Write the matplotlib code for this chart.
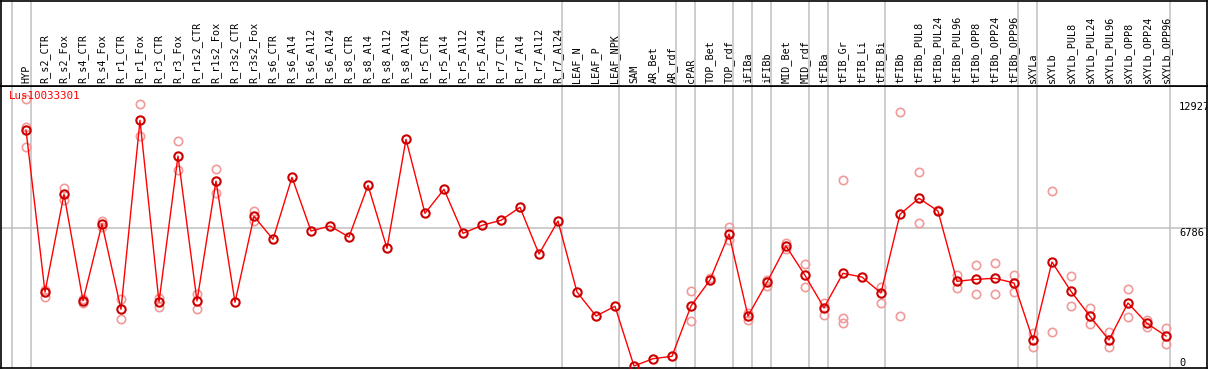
import matplotlib
matplotlib.use('Agg')
import matplotlib.pyplot as plt
import matplotlib.transforms as mtransforms

categories = ["HYP", "R_s2_CTR", "R_s2_Fox", "R_s4_CTR", "R_s4_Fox", "R_r1_CTR", "R_r1_Fox",
              "R_r3_CTR", "R_r3_Fox", "R_r1s2_CTR", "R_r1s2_Fox", "R_r3s2_CTR", "R_r3s2_Fox",
              "R_s6_CTR", "R_s6_Al4", "R_s6_Al12", "R_s6_Al24", "R_s8_CTR", "R_s8_Al4",
              "R_s8_Al12", "R_s8_Al24", "R_r5_CTR", "R_r5_Al4", "R_r5_Al12", "R_r5_Al24",
              "R_r7_CTR", "R_r7_Al4", "R_r7_Al12", "R_r7_Al24", "LEAF_N", "LEAF_P", "LEAF_NPK",
              "SAM", "AR_Bet", "AR_rdf", "cPAR", "TOP_Bet", "TOP_rdf", "iFIBa", "iFIBb",
              "MID_Bet", "MID_rdf", "tFIBa", "tFIB_Gr", "tFIB_Li", "tFIB_Bi", "tFIBb",
              "tFIBb_PUL8", "tFIBb_PUL24", "tFIBb_PUL96", "tFIBb_OPP8", "tFIBb_OPP24",
              "tFIBb_OPP96", "sXYLa", "sXYLb", "sXYLb_PUL8", "sXYLb_PUL24", "sXYLb_PUL96",
              "sXYLb_OPP8", "sXYLb_OPP24", "sXYLb_OPP96"]

group_sizes = [1, 28, 3, 3, 1, 2, 1, 1, 2, 1, 3, 7, 1, 7]

means = [11553, 3673, 8425, 3250, 6981, 2831, 12025, 3186, 10288, 3235, 9072, 3172, 7355,
         6236, 9252, 6640, 6883, 6348, 8863, 5798, 11101, 7501, 8669, 6528, 6917, 7161,
         7793, 5521, 7126, 3673, 2505, 2977, 73, 428, 545, 2992, 4256, 6494, 2505, 4145,
         5910, 4485, 2909, 4582, 4402, 3624, 7452, 8231, 7613, 4193, 4290, 4339, 4111,
         1338, 5132, 3707, 2491, 1338, 3138, 2150, 1532]

replicates = [
    [13085, 11699, 10741], [3770, 3444], [8717, 8148], [3318, 3123], [7141, 6849],
    [3318, 2345], [12818, 11261], [3366, 2958], [11018, 9607], [3575, 2860],
    [9656, 8474], [], [7628, 7141], [], [], [], [], [], [], [], [], [], [], [], [],
    [], [], [], [], [], [], [], [], [], [],
    [3721, 2247], [4368], [6835, 6202], [2666, 2311], [4256, 3965], [6071, 5779],
    [5020, 3916], [3152, 2568], [9121, 2423, 2150], [], [3931, 3152], [12414, 2491],
    [9496, 7015], [7662], [4500, 3853], [4972, 3561], [5083, 3575], [4500, 3658],
    [1693, 1012], [8571, 1712], [4436, 2977], [2880, 2101], [1727, 983],
    [3804, 2442], [2311, 1985], [1921, 1129],
]

title = "Lus10033301"
ref_lines = [12927, 6786]
ref_labels = ["12927", "6786.", "0"]

W, H = 1209, 370
fig = plt.figure(figsize=(W / 100, H / 100), dpi=100)


def px_rect(l, t, r, b):
    return [l / W, 1 - b / H, (r - l) / W, (b - t) / H]


ax = fig.add_axes(px_rect(1, 86, 1207, 368))
axt = fig.add_axes(px_rect(1, 1, 1207, 86))

xlim = (-1.316, 62.16)
ax.set_xlim(*xlim)
axt.set_xlim(*xlim)
ax.set_ylim(-24, 13694)
axt.set_ylim(0, 1)

for a in (ax, axt):
    a.set_xticks([])
    a.set_yticks([])
    for s in a.spines.values():
        s.set_color('black')
        s.set_linewidth(1.2)

grid_c = '#c0c0c0'
# group boundaries
bounds = [-1]
c = 0
for g in group_sizes:
    c += g
    bounds.append(c - 1)
for b in bounds:
    xb = b + 0.237
    ax.axvline(xb, color=grid_c, lw=1.1, zorder=0)
    axt.axvline(xb, color=grid_c, lw=1.1, zorder=0)

ax.axhline(ref_lines[1], color=grid_c, lw=1.1, zorder=0)

x = list(range(len(categories)))
rx, ry = [], []
for i, reps in enumerate(replicates):
    for v in reps:
        rx.append(i)
        ry.append(v)

ax.plot(rx, ry, ls='none', marker='o', ms=6, mfc='none', mec='#f09a9a', mew=1.2, zorder=2)
ax.plot(x, means, color='#ff0000', lw=1.0, marker='o', ms=6, mfc='none', mec='#cc0000',
        mew=1.5, zorder=3)

mono = 'DejaVu Sans Mono'
trans = mtransforms.blended_transform_factory(axt.transData, axt.transAxes)
for i, lab in enumerate(categories):
    axt.text(i, 0.035, lab, rotation=90, ha='center', va='bottom', transform=trans,
             family=mono, fontsize=7.3, color='black')

ax.text(0.0065, 0.965, title, transform=ax.transAxes, ha='left', va='center',
        family=mono, fontsize=7.8, color='#ff0000')

rt = mtransforms.blended_transform_factory(ax.transAxes, ax.transData)
ax.text(0.9768, ref_lines[0], ref_labels[0], transform=rt, ha='left', va='top',
        family=mono, fontsize=7.5, color='black', clip_on=True)
ax.text(0.9768, ref_lines[1], ref_labels[1], transform=rt, ha='left', va='top',
        family=mono, fontsize=7.5, color='black', clip_on=True)
ax.text(0.9768, 0, ref_labels[2], transform=rt, ha='left', va='bottom',
        family=mono, fontsize=7.5, color='black', clip_on=True)

fig.savefig('out.png', dpi=100)
